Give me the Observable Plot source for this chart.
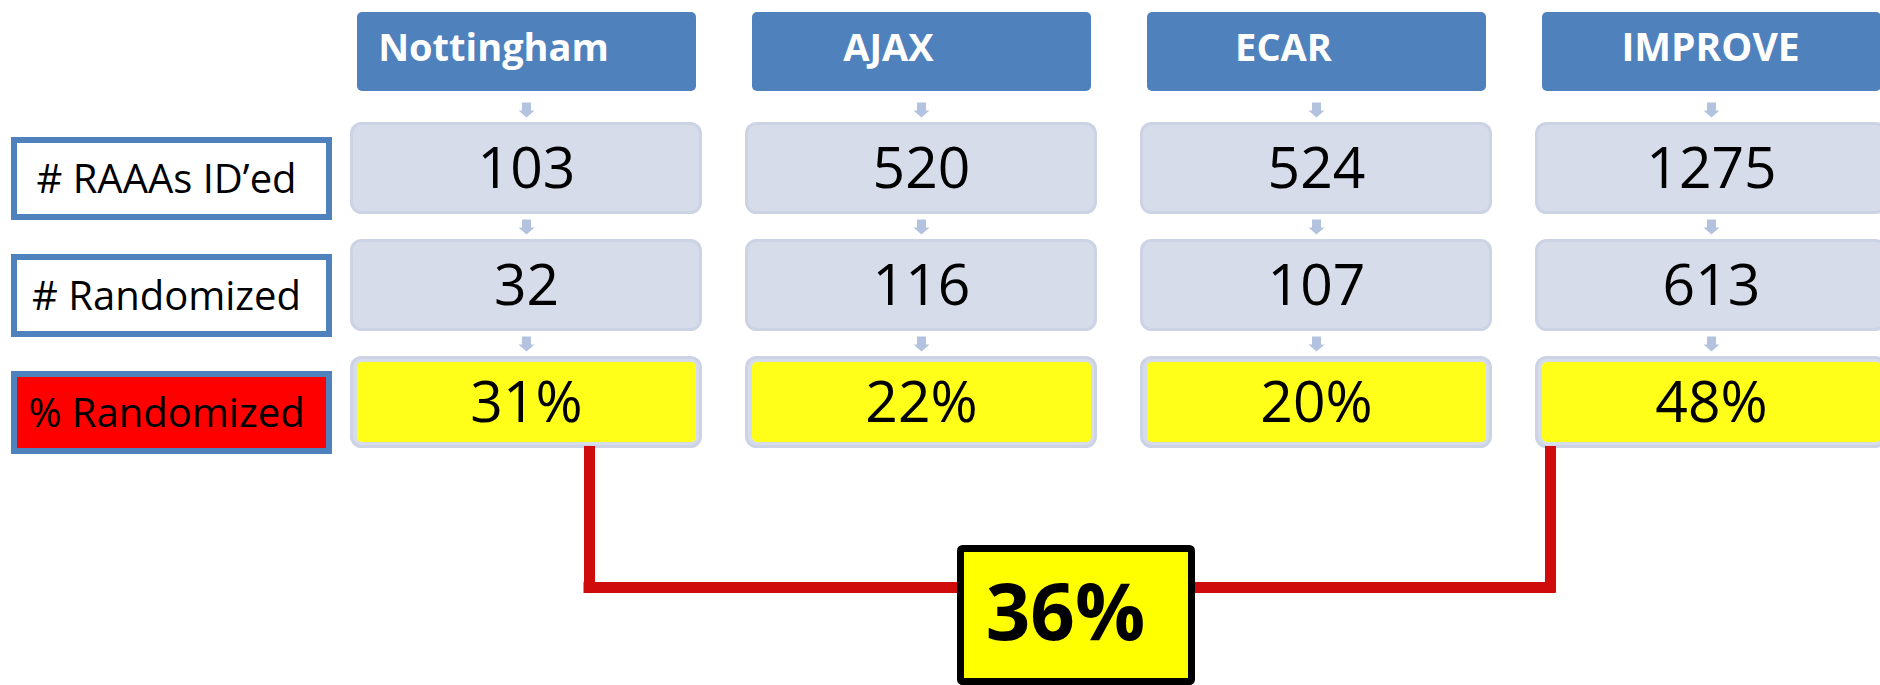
<!DOCTYPE html>
<html>
<head>
<meta charset="utf-8">
<script src="https://cdn.jsdelivr.net/npm/d3@7"></script>
<script src="https://cdn.jsdelivr.net/npm/@observablehq/plot@0.6"></script>
<style>
  html, body { margin: 0; padding: 0; background: #ffffff; overflow: hidden; }
  #chart svg { display: block; }
  g[aria-label="row labels"] text { letter-spacing: 1.9px; }
</style>
</head>
<body>
<div id="chart"></div>
<script>
// ---- data ----
const sites = ["Nottingham", "AJAX", "ECAR", "IMPROVE"];
const rowLabels = ["# RAAAs ID\u2019ed", "# Randomized", "% Randomized"];
const raaasIdentified = [103, 520, 524, 1275];
const randomized = [32, 116, 107, 613];
const percentRandomized = [31, 22, 20, 48];
const pooledPercent = 36;

// ---- tables built from the arrays ----
const cells = sites.flatMap((site, i) => [
  {site, row: rowLabels[0], text: String(raaasIdentified[i])},
  {site, row: rowLabels[1], text: String(randomized[i])},
  {site, row: rowLabels[2], text: percentRandomized[i] + "%"}
]);
const pctCells = cells.filter(d => d.row === rowLabels[2]);
const labels = rowLabels.map((row, i) => ({row, i}));
const pooled = [{anchor: sites[1], row: "pooled", text: pooledPercent + "%"}];
const leftArm = [{site: sites[0], from: rowLabels[2], to: "pooled"}];
const rightArm = [{site: sites[3], from: rowLabels[2], to: "pooled"}];
const span = [{row: "pooled", from: sites[0], to: sites[3]}];

const downArrow = {
  draw(ctx, size) {
    const r = Math.sqrt(size / Math.PI);
    ctx.moveTo(-0.56 * r, -0.94 * r);
    ctx.lineTo(0.56 * r, -0.94 * r);
    ctx.lineTo(0.56 * r, 0.06 * r);
    ctx.lineTo(r, 0.06 * r);
    ctx.lineTo(0, 0.94 * r);
    ctx.lineTo(-r, 0.06 * r);
    ctx.lineTo(-0.56 * r, 0.06 * r);
    ctx.closePath();
  }
};

const BLUE = "#4f81bd";
const GREY = "#d6dcea";
const GREY_EDGE = "#cbd3e4";
const YELLOW = "#ffff1a";
const RED_LINE = "#cf0b0b";
const FONT = "'Open Sans', 'DejaVu Sans', sans-serif";

const chart = Plot.plot({
  width: 1880,
  height: 685,
  margin: 0,
  style: {fontFamily: FONT, background: "#ffffff"},
  color: {type: "identity"},
  x: {type: "band", domain: ["label", ...sites], range: [-45, 1887], paddingInner: 0.10886, paddingOuter: 0, round: false, axis: null},
  y: {type: "band", domain: ["header", ...rowLabels, "pooled"], range: [5, 565], paddingInner: 0.213675, paddingOuter: 0, round: false, axis: null},
  marks: [
    // row label boxes
    Plot.cell(labels, {x: () => "label", y: "row",
      fill: d => d.i === 2 ? "#ff0000" : "#ffffff",
      stroke: BLUE, strokeWidth: 6,
      insetLeft: 59, insetRight: -22, insetTop: 18, insetBottom: -3}),
    Plot.text(labels, {x: () => "label", y: "row", text: "row",
      fontSize: 40, fill: "#000000", dx: 35, dy: 12, ariaLabel: "row labels"}),

    // site headers
    Plot.cell(sites, {x: d => d, y: () => "header", fill: BLUE, rx: 5,
      insetLeft: 7, insetRight: 6, insetTop: 7, insetBottom: 6}),
    Plot.text(sites.slice(0, 3), {x: d => d, y: () => "header", text: d => d,
      fill: "#ffffff", fontWeight: "bold", fontSize: 38, dx: -33, dy: -3}),
    Plot.text(sites.slice(3), {x: d => d, y: () => "header", text: d => d,
      fill: "#ffffff", fontWeight: "bold", fontSize: 39, dx: -1, dy: -3}),

    // arrows above each row
    Plot.dot(cells, {x: "site", y: "row", r: 8, symbol: downArrow,
      fill: "#b3c2de", stroke: "none", dy: -58.5}),

    // value boxes
    Plot.cell(cells, {x: "site", y: "row", fill: GREY, stroke: GREY_EDGE, strokeWidth: 3, rx: 10,
      insetLeft: 1.5, insetRight: 1.5, insetTop: 1.5, insetBottom: 1.5}),
    Plot.cell(pctCells, {x: "site", y: "row", fill: YELLOW, rx: 5,
      insetLeft: 7, insetRight: 6, insetTop: 6, insetBottom: 6}),
    Plot.text(cells, {x: "site", y: "row", text: "text", fontSize: 57, fill: "#000000", dy: 1}),

    // bracket to pooled result
    Plot.ruleY(span, {y: "row", x1: "from", x2: "to", stroke: RED_LINE, strokeWidth: 11,
      dy: 68, insetLeft: 233.5, insetRight: 331.5}),
    Plot.ruleX(leftArm, {x: "site", y1: "from", y2: "to", stroke: RED_LINE, strokeWidth: 11,
      dx: 63, insetTop: 90, insetBottom: -27.5}),
    Plot.ruleX(rightArm, {x: "site", y1: "from", y2: "to", stroke: RED_LINE, strokeWidth: 11,
      dx: -161, insetTop: 90, insetBottom: -27.5}),

    // pooled box
    Plot.cell(pooled, {x: "anchor", y: "row", fill: "#ffff00", stroke: "#000000", strokeWidth: 7, rx: 2,
      insetLeft: 215.5, insetRight: -94.5, insetTop: 75.5, insetBottom: -116.5}),
    Plot.text(pooled, {x: "anchor", y: "row", text: "text", fontSize: 78, fontWeight: "bold",
      fill: "#000000", dx: 144, dy: 96})
  ]
});
document.getElementById("chart").appendChild(chart);
</script>
</body>
</html>
